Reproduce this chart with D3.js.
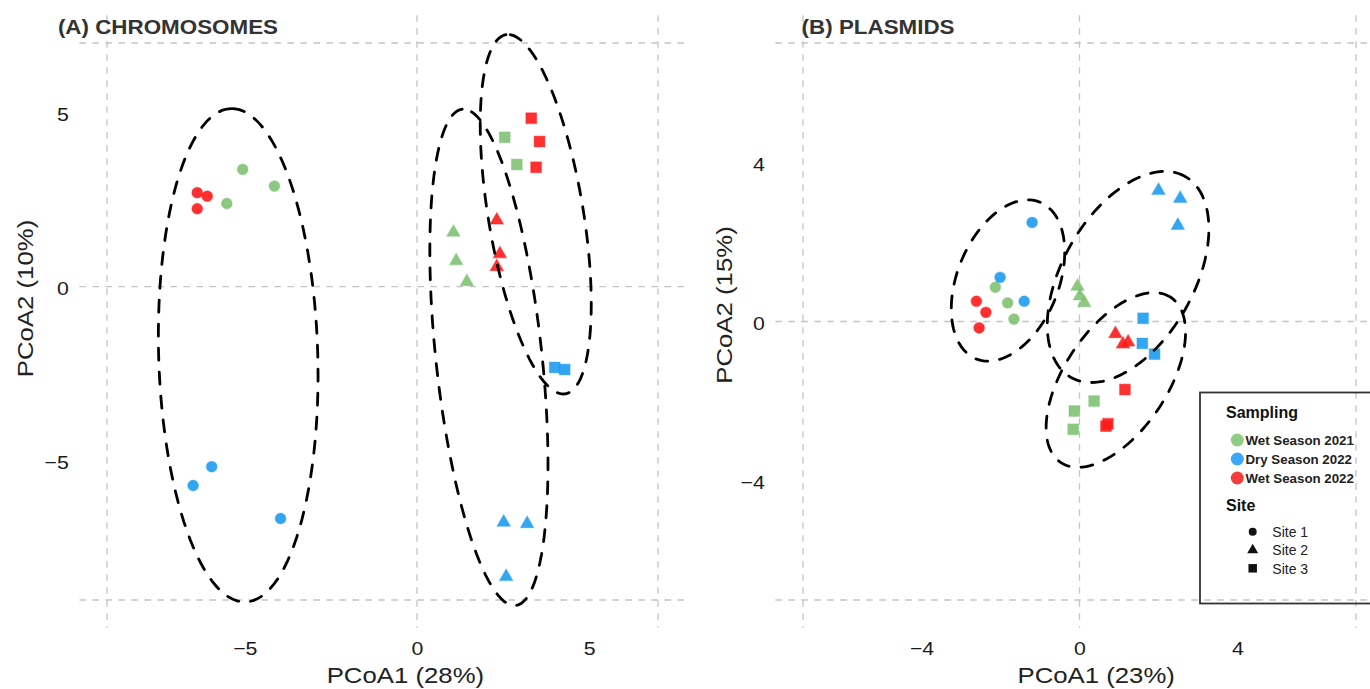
<!DOCTYPE html>
<html><head><meta charset="utf-8">
<script src="https://cdn.jsdelivr.net/npm/d3@7"></script>
<style>body{margin:0;background:#fff}svg{display:block}</style>
</head><body>
<svg id="chart" width="1370" height="689"></svg>
<script>
// ---------------- DATA ----------------
const samplingNames = ["Wet Season 2021", "Dry Season 2022", "Wet Season 2022"];
const siteNames = ["Site 1", "Site 2", "Site 3"];
const samplingColors = ["#7fc273", "#1e9cf0", "#ff1a1a"];
const legendColors = ["#8fcd84", "#3aa8f4", "#f53c3c"];

// (A) Chromosomes
const chromTicks = [-5, 0, 5];
const chromGrid = [-9, 0, 7];
const chromSampling = [0,0,0, 1,1,1, 2,2,2,  0,0,0, 1,1,1, 2,2,2,  0,0, 1,1, 2,2,2];
const chromSite     = [0,0,0, 0,0,0, 0,0,0,  1,1,1, 1,1,1, 1,1,1,  2,2, 2,2, 2,2,2];
const chromPC1 = [-5.06,-4.14,-5.52, -5.96,-6.50,-3.96, -6.38,-6.09,-6.38,
                  1.06,1.14,1.45, 2.52,3.20,2.59, 2.32,2.41,2.32,
                  2.55,2.90, 4.00,4.29, 3.32,3.56,3.46];
const chromPC2 = [3.37,2.89,2.39, -5.17,-5.71,-6.66, 2.70,2.60,2.24,
                  1.56,0.74,0.14, -6.77,-6.81,-8.33, 1.91,0.94,0.57,
                  4.29,3.51, -2.32,-2.38, 4.84,4.17,3.43];
// ellipses per site: centre, semi-axes, angle (deg)
const chromEllCx = [-5.19, 2.09, 3.45];
const chromEllCy = [-1.97, -2.03, 2.08];
const chromEllA  = [7.09, 7.17, 5.23];
const chromEllB  = [2.31, 1.54, 1.38];
const chromEllAng = [91.7, 96.2, 99.5];

// (B) Plasmids
const plasTicks = [-4, 0, 4];
const plasGrid = [-7, 0, 7];
const plasSampling = [0,0,0, 1,1,1, 2,2,2,  0,0,0, 1,1,1, 2,2,2,  0,0,0, 1,1,1, 2,2,2];
const plasSite     = [0,0,0, 0,0,0, 0,0,0,  1,1,1, 1,1,1, 1,1,1,  2,2,2, 2,2,2, 2,2,2];
const plasPC1 = [-2.13,-1.82,-1.66, -1.20,-2.01,-1.40, -2.61,-2.37,-2.54,
                 -0.05,0.01,0.12, 2.00,2.55,2.49, 0.91,1.10,1.23,
                 0.37,-0.13,-0.16, 1.61,1.59,1.90, 1.15,0.72,0.67];
const plasPC2 = [0.86,0.47,0.06, 2.49,1.11,0.51, 0.51,0.23,-0.16,
                 0.88,0.64,0.47, 3.29,3.09,2.41, -0.31,-0.57,-0.52,
                 -2.00,-2.25,-2.71, 0.08,-0.55,-0.82, -1.71,-2.57,-2.63];
const plasEllCx = [-1.81, 1.23, 0.92];
const plasEllCy = [1.03, 1.12, -1.47];
const plasEllA  = [2.13, 2.91, 2.50];
const plasEllB  = [1.28, 1.66, 1.30];
const plasEllAng = [67.5, 60, 56];

// ---------------- DRAW ----------------
const FONT = "'Liberation Sans', Arial, Helvetica, sans-serif";
const SX = 1.12;
const svg = d3.select("#chart");
const shapes = [d3.symbolCircle, d3.symbolTriangle, d3.symbolSquare];
const shapeSizes = [92, 78, 116];

function addText(g, str, x, y, o) {
  return g.append("text")
    .attr("transform", `translate(${x},${y})` + (o.rotate ? ` rotate(${o.rotate})` : "") + ` scale(${o.sx || 1},1)`)
    .attr("text-anchor", o.anchor || "start")
    .attr("font-family", FONT)
    .attr("font-size", o.size)
    .attr("font-weight", o.weight || "normal")
    .attr("fill", o.fill || "#1a1a1a")
    .text(str);
}

function panel(c) {
  const x = d3.scaleLinear().domain(c.gridDomain).range(c.xRange);
  const y = d3.scaleLinear().domain(c.gridDomain).range(c.yRange);
  const span = c.gridDomain[1] - c.gridDomain[0];
  const ext = [c.gridDomain[0] - 0.05 * span, c.gridDomain[1] + 0.05 * span];
  const px0 = x(ext[0]), px1 = x(ext[1]), py0 = y(ext[1]), py1 = y(ext[0]);
  const g = svg.append("g");

  // dashed reference grid
  const gridStyle = s => s.attr("stroke", "#c4c4c4").attr("stroke-width", 1.3).attr("stroke-dasharray", "6.5,6.5");
  g.append("g").selectAll("line.v").data(c.grid).join("line")
    .attr("x1", d => x(d)).attr("x2", d => x(d)).attr("y1", py0).attr("y2", py1).call(gridStyle);
  g.append("g").selectAll("line.h").data(c.grid).join("line")
    .attr("y1", d => y(d)).attr("y2", d => y(d)).attr("x1", px0).attr("x2", px1).call(gridStyle);

  // axes (labels only)
  const xa = g.append("g").attr("transform", `translate(0,${py1})`)
    .call(d3.axisBottom(x).tickValues(c.ticks).tickSize(0).tickPadding(13.7));
  const ya = g.append("g").attr("transform", `translate(${px0},0)`)
    .call(d3.axisLeft(y).tickValues(c.ticks).tickSize(0).tickPadding(9.5));
  [xa, ya].forEach(a => {
    a.select(".domain").remove();
    a.selectAll("text").attr("font-family", FONT).attr("font-size", 19).attr("fill", "#1a1a1a")
      .attr("transform", `scale(${SX},1)`);
  });
  ya.selectAll("text").attr("dy", "0.43em");

  // points
  const idx = d3.range(c.pc1.length);
  g.append("g").selectAll("path").data(idx).join("path")
    .attr("transform", i => `translate(${x(c.pc1[i])},${y(c.pc2[i])})`)
    .attr("d", i => d3.symbol(shapes[c.site[i]], shapeSizes[c.site[i]])())
    .attr("fill", i => samplingColors[c.samp[i]])
    .attr("fill-opacity", 0.9)
    .attr("stroke", i => samplingColors[c.samp[i]])
    .attr("stroke-opacity", 0.35)
    .attr("stroke-width", 1.2);

  // ellipses
  const line = d3.line().x(d => x(d[0])).y(d => y(d[1])).curve(d3.curveLinearClosed);
  const ells = d3.range(c.ellCx.length).map(k => {
    const th = c.ellAng[k] * Math.PI / 180;
    return d3.range(120).map(j => {
      const t = 2 * Math.PI * j / 120;
      const u = c.ellA[k] * Math.cos(t), v = c.ellB[k] * Math.sin(t);
      return [c.ellCx[k] + u * Math.cos(th) - v * Math.sin(th),
              c.ellCy[k] + u * Math.sin(th) + v * Math.cos(th)];
    });
  });
  g.append("g").selectAll("path").data(ells).join("path")
    .attr("d", line).attr("fill", "none").attr("stroke", "#000")
    .attr("stroke-width", 2.8).attr("stroke-dasharray", "12,12").attr("stroke-linecap", "round");

  // titles
  addText(g, c.title, c.titleX, 34.3, {size: 20, weight: "bold", fill: "#333333", sx: SX});
  addText(g, c.xTitle, c.xTitleX, 683, {size: 23, anchor: "middle", sx: SX, fill: "#222"});
  addText(g, c.yTitle, c.yTitleX, c.yTitleY, {size: 23, anchor: "middle", rotate: -90, sx: SX, fill: "#222"});
  return {x, y, g};
}

panel({
  title: "(A) CHROMOSOMES", titleX: 57.9,
  gridDomain: [chromGrid[0], chromGrid[2]], grid: chromGrid, ticks: chromTicks,
  xRange: [107, 658], yRange: [600, 43],
  pc1: chromPC1, pc2: chromPC2, samp: chromSampling, site: chromSite,
  ellCx: chromEllCx, ellCy: chromEllCy, ellA: chromEllA, ellB: chromEllB, ellAng: chromEllAng,
  xTitle: "PCoA1 (28%)", xTitleX: 405.4, yTitle: "PCoA2 (10%)", yTitleX: 33.4, yTitleY: 298.5
});

panel({
  title: "(B) PLASMIDS", titleX: 801.6,
  gridDomain: [plasGrid[0], plasGrid[2]], grid: plasGrid, ticks: plasTicks,
  xRange: [803, 1356], yRange: [600, 43],
  pc1: plasPC1, pc2: plasPC2, samp: plasSampling, site: plasSite,
  ellCx: plasEllCx, ellCy: plasEllCy, ellA: plasEllA, ellB: plasEllB, ellAng: plasEllAng,
  xTitle: "PCoA1 (23%)", xTitleX: 1096.2, yTitle: "PCoA2 (15%)", yTitleX: 732, yTitleY: 305
});

// legend
const lg = svg.append("g");
lg.append("rect").attr("x", 1200).attr("y", 392.5).attr("width", 190).attr("height", 211)
  .attr("fill", "none").attr("stroke", "#333").attr("stroke-width", 1.8);
addText(lg, "Sampling", 1226, 417.5, {size: 16, weight: "bold", fill: "#111"});
samplingNames.forEach((s, i) => {
  const cy = 440 + i * 19;
  lg.append("circle").attr("cx", 1237.3).attr("cy", cy).attr("r", 6.5).attr("fill", legendColors[i]);
  addText(lg, s, 1245.5, cy + 5.2, {size: 13.3, weight: "bold", fill: "#222"});
});
addText(lg, "Site", 1226, 510.5, {size: 16, weight: "bold", fill: "#111"});
siteNames.forEach((s, i) => {
  const cy = 531.7 + i * 18.3;
  lg.append("path").attr("transform", `translate(1252.7,${cy})`)
    .attr("d", d3.symbol(shapes[i], [50, 52, 72][i])()).attr("fill", "#111");
  addText(lg, s, 1272.3, cy + 5.2, {size: 14, fill: "#222"});
});
</script>
</body></html>
